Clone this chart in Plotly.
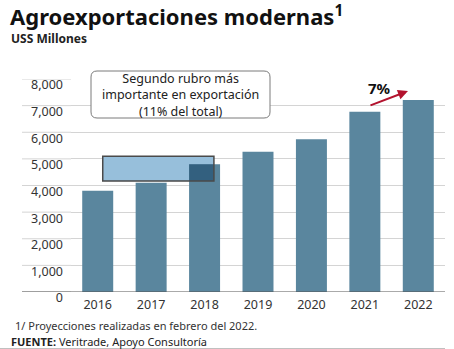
import plotly.graph_objects as go

# ---- data ----
years = ["2016", "2017", "2018", "2019", "2020", "2021", "2022"]
values = [3800, 4100, 4800, 5270, 5740, 6770, 7210]
y_ticks = [0, 1000, 2000, 3000, 4000, 5000, 6000, 7000, 8000]
y_ticklabels = ["0", "1,000", "2,000", "3,000", "4,000", "5,000", "6,000", "7,000", "8,000"]

title = "Agroexportaciones modernas<sup>1</sup>"
subtitle = "USS Millones"
note_text = "Segundo rubro más<br>importante en exportación<br>(11% del total)"
growth_label = "7%"
footnote = "1/ Proyecciones realizadas en febrero del 2022."
source = "<b>FUENTE:</b> Veritrade, Apoyo Consultoría"

# ---- layout geometry (pixels) ----
W, H = 454, 349
L, R, T, B = 71, 9, 79, 57
PW, PH = W - L - R, H - T - B
FONT = "Noto Sans"
BAR = "#5a869e"

def px(x):  # pixel x -> paper x
    return (x - L) / PW

def py(y):  # pixel y -> paper y
    return (H - B - y) / PH

def rounded_box(x0, y0, x1, y1, r):
    pts = [
        f"M {px(x0 + r)} {py(y0)}", f"L {px(x1 - r)} {py(y0)}",
        f"Q {px(x1)} {py(y0)} {px(x1)} {py(y0 + r)}", f"L {px(x1)} {py(y1 - r)}",
        f"Q {px(x1)} {py(y1)} {px(x1 - r)} {py(y1)}", f"L {px(x0 + r)} {py(y1)}",
        f"Q {px(x0)} {py(y1)} {px(x0)} {py(y1 - r)}", f"L {px(x0)} {py(y0 + r)}",
        f"Q {px(x0)} {py(y0)} {px(x0 + r)} {py(y0)}", "Z",
    ]
    return " ".join(pts)

fig = go.Figure()
fig.add_trace(go.Bar(x=years, y=values, marker=dict(color=BAR, line=dict(width=0)),
                     hoverinfo="skip", showlegend=False))

shapes = []
# grid extensions to the left of the plot area
for v in y_ticks:
    shapes.append(dict(type="line", xref="paper", yref="y", x0=px(22), x1=0, y0=v, y1=v,
                       line=dict(color="#d4d4d4", width=1), layer="below"))
# baseline
shapes.append(dict(type="line", xref="paper", yref="y", x0=px(22), x1=1, y0=0, y1=0,
                   line=dict(color="#555555", width=1), layer="above"))

# highlight rectangle (2016-2018 band)
hx0, hx1, hy0, hy1 = 0.094, 2.175, 4170, 5100
bar_half = (1 - 0.42) / 2
shapes.append(dict(type="rect", xref="x", yref="y", x0=hx0, x1=hx1, y0=hy0, y1=hy1,
                   fillcolor="#97bfdb", line=dict(width=0), layer="above"))
ov_x0 = max(hx0, 2 - bar_half)
ov_y1 = min(hy1, values[2])
shapes.append(dict(type="rect", xref="x", yref="y", x0=ov_x0, x1=hx1, y0=hy0, y1=ov_y1,
                   fillcolor="#33607f", line=dict(width=0), layer="above"))
shapes.append(dict(type="rect", xref="x", yref="y", x0=hx0, x1=hx1, y0=hy0, y1=hy1,
                   fillcolor="rgba(0,0,0,0)", line=dict(color="#4a4a4a", width=1.5), layer="above"))
# rounded note box
shapes.append(dict(type="path", xref="paper", yref="paper", path=rounded_box(91, 71, 270, 118, 6),
                   fillcolor="white", line=dict(color="#7a7a7a", width=1), layer="above"))
# bottom rule
shapes.append(dict(type="line", xref="paper", yref="paper", x0=px(0), x1=px(445), y0=py(348.5), y1=py(348.5),
                   line=dict(color="#c0c0c0", width=1)))

annotations = [
    dict(text="<b>" + title + "</b>", xref="paper", yref="paper", x=px(8), y=py(15),
         xanchor="left", yanchor="middle", showarrow=False, font=dict(family=FONT, size=22, color="#111111")),
    dict(text="<b>" + subtitle + "</b>", xref="paper", yref="paper", x=px(9), y=py(38.5),
         xanchor="left", yanchor="middle", showarrow=False, font=dict(family=FONT, size=12, color="#222222")),
    dict(text=note_text, xref="paper", yref="paper", x=px(180.5), y=py(94.5), xanchor="center",
         yanchor="middle", showarrow=False, font=dict(family=FONT, size=12.5, color="#222222"),
         align="center"),
    dict(text="", xref="x", yref="y", x=5.807, y=7549, ax=-39, ay=15, axref="pixel", ayref="pixel",
         showarrow=True, arrowhead=2, arrowsize=1, arrowwidth=2, arrowcolor="#b3122e"),
    dict(text="<b>" + growth_label + "</b>", xref="x", yref="y", x=5.283, y=7662, xanchor="center",
         yanchor="middle", showarrow=False, font=dict(family=FONT, size=15, color="#111111")),
    dict(text=footnote, xref="paper", yref="paper", x=px(13), y=py(325.5), xanchor="left", yanchor="middle",
         showarrow=False, font=dict(family=FONT, size=11, color="#333333")),
    dict(text=source, xref="paper", yref="paper", x=px(9), y=py(341.5), xanchor="left", yanchor="middle",
         showarrow=False, font=dict(family=FONT, size=11, color="#222222")),
]

fig.update_layout(
    width=W, height=H, margin=dict(l=L, r=R, t=T, b=B),
    paper_bgcolor="white", plot_bgcolor="white",
    bargap=0.42, shapes=shapes, annotations=annotations,
    font=dict(family=FONT, color="#333333"),
    xaxis=dict(type="category", range=[-0.5, 6.5], showgrid=False, zeroline=False, showline=False,
               ticks="", tickfont=dict(family=FONT, size=12.5, color="#333333"), ticklabelstandoff=3,
               fixedrange=True),
    yaxis=dict(range=[0, 8000], tickvals=y_ticks, ticktext=y_ticklabels, showgrid=True,
               gridcolor="#d4d4d4", gridwidth=1, zeroline=False, showline=False, ticks="",
               tickfont=dict(family=FONT, size=12.5, color="#333333"), ticklabelstandoff=7,
               ticklabelshift=6, fixedrange=True),
)

fig.write_html("out.html")
